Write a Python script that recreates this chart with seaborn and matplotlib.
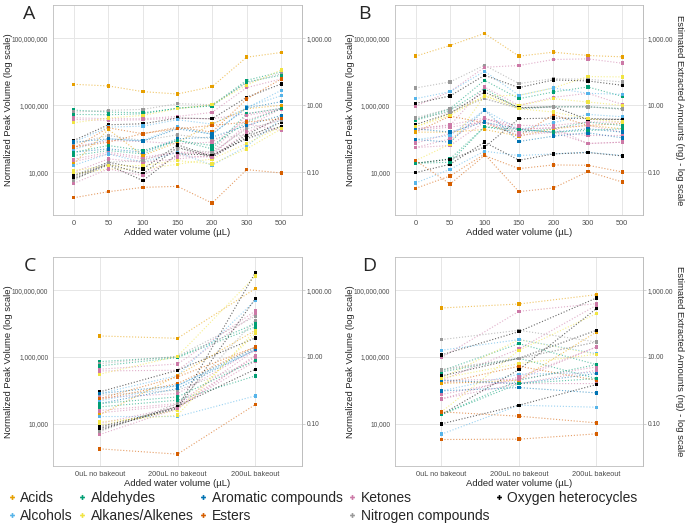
import numpy as np
import pandas as pd
import matplotlib
matplotlib.use('Agg')
import matplotlib.pyplot as plt
import seaborn as sns
from matplotlib.ticker import FixedLocator, FuncFormatter, NullLocator
from matplotlib.lines import Line2D

# x categories
water_levels = ['0', '50', '100', '150', '200', '300', '500']
bake_levels = ['0uL no bakeout', '200uL no bakeout', '200uL bakeout']

classes = ['Acids', 'Alcohols', 'Aldehydes', 'Alkanes/Alkenes', 'Aromatic compounds',
           'Esters', 'Ketones', 'Nitrogen compounds', 'Oxygen heterocycles']
class_colors = ['#E69F00', '#56B4E9', '#009E73', '#F0E442', '#0072B2',
                '#D55E00', '#CC79A7', '#999999', '#000000']

compounds = ['acid_1', 'aldehyde_1', 'nitrogen_1', 'aldehyde_2', 'ketone_1', 'ketone_2',
             'alkene_1', 'oxygen_1', 'alcohol_1', 'nitrogen_2', 'ketone_3', 'ester_1',
             'alcohol_2', 'aldehyde_3', 'ketone_4', 'ketone_5', 'acid_2', 'alcohol_3',
             'ketone_6', 'alkene_2', 'oxygen_2', 'oxygen_3', 'oxygen_4', 'nitrogen_3',
             'ketone_7', 'ester_2', 'aromatic_1', 'aromatic_2', 'alkene_3', 'aldehyde_4',
             'ester_3']
compound_class = ['Acids', 'Aldehydes', 'Nitrogen compounds', 'Aldehydes', 'Ketones', 'Ketones',
                  'Alkanes/Alkenes', 'Oxygen heterocycles', 'Alcohols', 'Nitrogen compounds',
                  'Ketones', 'Esters', 'Alcohols', 'Aldehydes', 'Ketones', 'Ketones', 'Acids',
                  'Alcohols', 'Ketones', 'Alkanes/Alkenes', 'Oxygen heterocycles',
                  'Oxygen heterocycles', 'Oxygen heterocycles', 'Nitrogen compounds', 'Ketones',
                  'Esters', 'Aromatic compounds', 'Aromatic compounds', 'Alkanes/Alkenes',
                  'Aldehydes', 'Esters']

# log10 of normalized peak volume
# panel A: 0, 50, 100, 150, 200, 300, 500 uL
a_log = [
    [6.63, 6.58, 6.41, 6.34, 6.56, 7.44, 7.58],
    [5.86, 5.80, 5.78, 5.91, 6.00, 6.75, 7.00],
    [5.80, 5.85, 5.88, 6.05, 6.02, 6.67, 6.95],
    [5.73, 5.72, 5.75, 5.92, 5.98, 6.70, 6.90],
    [5.63, 5.60, 5.60, 5.67, 5.79, 6.53, 6.79],
    [5.58, 5.55, 5.57, 5.62, 5.60, 5.75, 5.91],
    [5.48, 5.62, 5.70, 5.90, 6.02, 6.60, 7.06],
    [4.95, 5.42, 5.45, 5.62, 5.60, 6.24, 6.64],
    [4.90, 5.35, 5.38, 5.57, 5.44, 5.92, 6.45],
    [4.85, 5.10, 4.95, 5.12, 5.00, 5.12, 5.37],
    [4.77, 4.95, 4.92, 4.85, 4.90, 5.55, 5.91],
    [4.72, 5.33, 5.15, 5.35, 5.20, 6.19, 6.79],
    [4.68, 5.00, 4.95, 5.35, 5.14, 5.95, 6.29],
    [4.50, 4.65, 4.55, 4.96, 4.70, 5.75, 5.91],
    [4.39, 4.60, 4.45, 4.60, 4.60, 5.70, 5.87],
    [4.32, 4.55, 4.40, 4.58, 4.55, 5.35, 5.91],
    [4.26, 5.28, 4.50, 4.90, 5.44, 5.90, 6.00],
    [4.21, 4.55, 4.30, 4.60, 4.21, 4.78, 5.60],
    [4.00, 4.40, 4.30, 4.40, 4.50, 5.45, 5.25],
    [3.95, 4.10, 4.10, 4.24, 4.40, 4.86, 5.37],
    [3.90, 4.30, 4.10, 4.82, 4.48, 5.12, 5.67],
    [3.85, 4.25, 3.95, 4.75, 4.45, 5.05, 5.49],
    [3.80, 4.22, 3.75, 4.55, 4.52, 5.00, 5.37],
    [3.75, 4.30, 4.35, 4.70, 4.60, 5.30, 5.55],
    [3.67, 4.10, 3.90, 4.50, 4.45, 5.20, 5.60],
    [3.24, 3.42, 3.55, 3.58, 3.08, 4.08, 3.98],
    [4.90, 5.00, 4.93, 5.30, 5.14, 5.92, 6.11],
    [4.60, 4.70, 4.60, 5.00, 5.05, 5.40, 5.70],
    [4.05, 4.20, 4.20, 4.35, 4.25, 4.70, 5.30],
    [4.60, 4.80, 4.65, 4.95, 4.80, 5.50, 5.90],
    [4.75, 4.90, 5.16, 5.30, 5.40, 5.50, 5.60],
]
# panel C: 200 uL with bakeout
a_bake_log = [8.05, 7.00, 7.22, 6.90, 7.38, 7.30, 8.43, 6.57, 7.70, 5.87, 6.23, 6.30, 6.20,
              5.43, 6.20, 6.00, 6.80, 4.83, 5.87, 6.70, 8.53, 7.75, 5.63, 7.10, 6.05, 4.57,
              6.27, 6.22, 6.80, 5.90, 6.30]

# panel B
b_log = [
    [7.47, 7.79, 8.15, 7.47, 7.59, 7.49, 7.45],
    [5.58, 5.90, 6.75, 6.20, 6.40, 6.55, 6.27],
    [6.52, 6.70, 7.20, 6.65, 6.80, 6.78, 6.70],
    [5.55, 5.85, 6.50, 5.90, 5.96, 5.96, 5.90],
    [5.98, 6.41, 7.14, 7.19, 7.37, 7.39, 7.26],
    [5.30, 5.40, 6.55, 6.00, 6.24, 6.36, 6.03],
    [5.36, 5.76, 6.28, 6.30, 6.52, 6.86, 6.85],
    [6.06, 6.28, 6.90, 6.53, 6.76, 6.73, 6.60],
    [6.20, 6.41, 7.02, 6.30, 6.52, 6.36, 6.33],
    [5.63, 5.90, 6.20, 5.93, 5.96, 5.96, 5.88],
    [4.87, 5.16, 5.60, 5.28, 5.33, 4.86, 4.90],
    [5.20, 5.68, 5.48, 5.08, 5.72, 5.40, 5.46],
    [4.98, 5.10, 5.86, 5.28, 5.48, 5.73, 5.66],
    [4.27, 4.40, 5.36, 5.20, 5.30, 5.50, 5.40],
    [4.74, 5.00, 5.60, 5.40, 5.40, 5.50, 5.50],
    [5.25, 5.35, 5.50, 5.20, 5.20, 5.10, 5.10],
    [5.20, 5.20, 5.28, 5.08, 5.30, 5.40, 5.30],
    [3.68, 4.09, 4.63, 4.50, 4.55, 4.60, 4.50],
    [4.74, 4.80, 5.50, 5.10, 5.20, 4.86, 4.90],
    [4.35, 4.84, 6.28, 6.00, 6.20, 6.10, 6.00],
    [3.99, 4.24, 4.90, 4.36, 4.55, 4.59, 4.49],
    [4.27, 4.39, 4.75, 5.60, 5.62, 5.61, 5.58],
    [5.43, 5.76, 6.40, 5.93, 5.96, 5.58, 5.58],
    [5.60, 5.80, 6.20, 5.90, 5.95, 5.95, 5.90],
    [5.30, 5.42, 5.62, 5.30, 5.33, 5.40, 5.20],
    [3.52, 3.89, 4.54, 3.42, 3.53, 4.02, 3.71],
    [4.98, 4.90, 5.86, 4.92, 5.08, 5.18, 5.03],
    [5.30, 5.20, 5.50, 5.28, 5.20, 5.30, 5.20],
    [5.36, 5.70, 6.28, 5.90, 5.80, 5.60, 5.50],
    [4.27, 4.30, 5.36, 5.28, 5.20, 5.25, 5.30],
    [4.35, 3.65, 4.50, 4.11, 4.22, 4.21, 4.01],
]
# panel D
b_bake_log = [7.87, 5.77, 6.45, 5.35, 7.60, 7.55, 6.08, 7.77, 6.10, 6.45, 5.70, 5.30, 5.53,
              5.77, 6.30, 5.20, 6.75, 4.49, 5.60, 7.30, 5.17, 7.45, 6.80, 6.45, 6.30, 3.69,
              4.92, 5.50, 6.08, 5.35, 4.02]

NG_PER_PEAK = 1e-5  # right axis: estimated ng = peak volume * 1e-5

sns.set_theme(style='white')
plt.rcParams['font.family'] = ['Liberation Sans', 'DejaVu Sans']

color_of = dict(zip(classes, class_colors))
palette = {c: color_of[k] for c, k in zip(compounds, compound_class)}


def make_frame(rows):
    recs = []
    for name, vals in zip(compounds, rows):
        for i, v in enumerate(vals):
            recs.append({'compound': name, 'pos': i, 'peak': 10 ** v})
    return pd.DataFrame(recs)


def draw_panel(ax, df, labels, letter, letter_x, right_label):
    sns.lineplot(data=df, x='pos', y='peak', hue='compound', palette=palette,
                 estimator=None, sort=False, legend=False, ax=ax,
                 linestyle=':', linewidth=0.8, alpha=0.6)
    sns.scatterplot(data=df, x='pos', y='peak', hue='compound', palette=palette,
                    marker='s', s=6, linewidth=0, legend=False, ax=ax, zorder=3)
    ax.set_yscale('log')
    ax.set_ylim(530, 1e9)
    ax.set_xlim(-0.6, len(labels) - 0.4)
    ax.set_xticks(range(len(labels)))
    ax.set_xticklabels(labels)
    ax.yaxis.set_major_locator(FixedLocator([1e4, 1e6, 1e8]))
    ax.yaxis.set_major_formatter(FuncFormatter(lambda v, p: f'{v:,.0f}'))
    ax.yaxis.set_minor_locator(NullLocator())
    ax.grid(True, color='#e6e6e6', linewidth=0.7)
    ax.set_axisbelow(True)
    for s in ax.spines.values():
        s.set_color('#bdbdbd')
        s.set_linewidth(0.6)
    ax.tick_params(axis='both', length=2, width=0.5, color='#bdbdbd',
                   labelcolor='#4d4d4d', pad=1.5)
    ax.tick_params(axis='y', labelsize=4.8)
    ax.tick_params(axis='x', labelsize=5.3)
    ax.set_xlabel('Added water volume (µL)', fontsize=6.8, labelpad=1)
    ax.set_ylabel('Normalized Peak Volume (log scale)', fontsize=6.8, labelpad=-1.2)

    sec = ax.secondary_yaxis('right', functions=(lambda v: v * NG_PER_PEAK,
                                                 lambda v: v / NG_PER_PEAK))
    sec.yaxis.set_major_locator(FixedLocator([0.1, 10, 1000]))
    sec.yaxis.set_major_formatter(FuncFormatter(lambda v, p: f'{v:,.2f}'))
    sec.yaxis.set_minor_locator(NullLocator())
    sec.tick_params(length=2, width=0.5, color='#bdbdbd', labelsize=4.8,
                    labelcolor='#4d4d4d', pad=1.5)
    for s in sec.spines.values():
        s.set_color('#bdbdbd')
        s.set_linewidth(0.6)
    if right_label:
        sec.set_ylabel('Estimated Extracted Amounts (ng) - log scale', fontsize=6.8,
                       rotation=270, labelpad=8)
    ax.text(letter_x, 1.0, letter, transform=ax.transAxes, fontsize=14,
            family=['Open Sans', 'DejaVu Sans'], va='top', ha='center')


fig = plt.figure(figsize=(6.85, 5.29), dpi=100)
ax_a = fig.add_axes([0.0774, 0.5936, 0.3635, 0.397])
ax_b = fig.add_axes([0.5766, 0.5936, 0.362, 0.397])
ax_c = fig.add_axes([0.0774, 0.1191, 0.3635, 0.395])
ax_d = fig.add_axes([0.5766, 0.1191, 0.362, 0.395])

c_rows = [[r[0], r[4], b] for r, b in zip(a_log, a_bake_log)]
d_rows = [[r[0], r[4], b] for r, b in zip(b_log, b_bake_log)]

draw_panel(ax_a, make_frame(a_log), water_levels, 'A', -0.096, False)
draw_panel(ax_b, make_frame(b_log), water_levels, 'B', -0.125, True)
draw_panel(ax_c, make_frame(c_rows), bake_levels, 'C', -0.094, False)
draw_panel(ax_d, make_frame(d_rows), bake_levels, 'D', -0.103, True)

handles = [Line2D([], [], marker='P', linestyle='None', color=c, markersize=3.5,
                  markeredgewidth=0) for c in class_colors]
fig.legend(handles, classes, ncol=5, loc='upper left', bbox_to_anchor=(0.0, 0.087),
           frameon=False, fontsize=10, handlelength=0.5, handletextpad=0.35,
           columnspacing=0.45, labelspacing=0.25, borderaxespad=0.2)

fig.savefig('out.png', dpi=100)
